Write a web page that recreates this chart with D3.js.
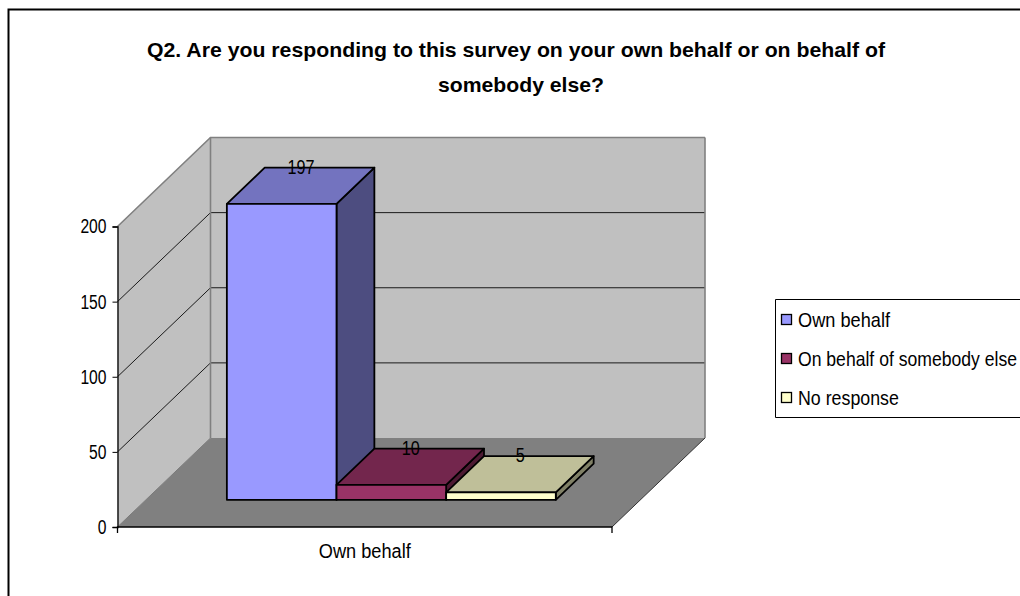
<!DOCTYPE html>
<meta charset="utf-8">
<style>
body{ margin: 0; background: #fff; overflow: hidden; }
svg{ display: block; }
text{ font-family: "Liberation Sans", Arial, sans-serif; fill: #000; }
</style>
<svg id="chart" width="1020" height="596"></svg>
<script src="https://cdn.jsdelivr.net/npm/d3@7"></script>
<script>

var titleLines = ['Q2. Are you responding to this survey on your own behalf or on behalf of', 'somebody else?']
var categories = ['Own behalf']
var seriesNames = ['Own behalf', 'On behalf of somebody else', 'No response']
var seriesValues = [197, 10, 5]
var yTicks = [0, 50, 100, 150, 200]
var frontColors = ['#9999ff', '#993366', '#ffffcc']
var topColors = ['#7373bf', '#73264d', '#bfbf99']
var sideColors = ['#4d4d80', '#4d1a33', '#808066']

var svg = d3.select('#chart')

// front edge of the box and how far the depth pushes things back
var x0Box = 117.5, x1Box = 612, yFloor = 527
var depth = {x: 93, y: -89}

var y = d3.scaleLinear().domain([0, 200]).range([yFloor, 226.5])
var x = d3.scaleBand().domain(categories).range([x0Box, x1Box])

// depth goes 0 (front of box) to 1 (back wall)
function pt(px, py, d){ return [px + depth.x * d, py + depth.y * d] }
function poly(pts){ return 'M' + pts.join('L') + 'Z' }

// chart frame, cut by the picture on the right and bottom
svg.append('path')
    .attr('d', 'M1022,9.5H8.5V598')
    .attr('fill', 'none').attr('stroke', '#000').attr('stroke-width', 2)

titleLines.forEach(function(t, i){
  svg.append('text')
      .attr('x', i ? 521 : 516).attr('y', i ? 92 : 57)
      .attr('text-anchor', 'middle')
      .attr('font-size', 21).attr('font-weight', 'bold')
      .attr('textLength', i ? 166 : 738).attr('lengthAdjust', 'spacingAndGlyphs')
      .text(t)
})

// walls and floor
var yTop = y(200)
svg.append('path')
    .attr('d', poly([pt(x0Box, yFloor, 0), pt(x0Box, yTop, 0), pt(x0Box, yTop, 1), pt(x0Box, yFloor, 1)]))
    .attr('fill', '#c0c0c0')
svg.append('path')
    .attr('d', poly([pt(x0Box, yFloor, 1), pt(x0Box, yTop, 1), pt(x1Box, yTop, 1), pt(x1Box, yFloor, 1)]))
    .attr('fill', '#c0c0c0')
svg.append('path')
    .attr('d', poly([pt(x0Box, yFloor, 0), pt(x0Box, yFloor, 1), pt(x1Box, yFloor, 1), pt(x1Box, yFloor, 0)]))
    .attr('fill', '#808080')

// grid on the two walls
yTicks.slice(1).forEach(function(d){
  var isTop = d == 200
  svg.append('path')
      .attr('d', 'M' + [pt(x0Box, y(d), 0), pt(x0Box, y(d), 1), pt(x1Box, y(d), 1)].join('L'))
      .attr('fill', 'none')
      .attr('stroke', isTop ? '#808080' : '#1a1a1a')
      .attr('stroke-width', isTop ? 1.6 : 1)
})

// wall edges
svg.append('path')
    .attr('d', 'M' + [pt(x0Box, yFloor, 1), pt(x0Box, yTop, 1)].join('L'))
    .attr('stroke', '#808080').attr('stroke-width', 1.6)
svg.append('path')
    .attr('d', 'M' + [pt(x1Box, yTop, 1), pt(x1Box, yFloor, 1)].join('L'))
    .attr('stroke', '#808080').attr('stroke-width', 1.6)
svg.append('path')
    .attr('d', 'M' + [pt(x0Box, yFloor, 0), pt(x0Box, yFloor, 1)].join('L'))
    .attr('stroke', '#7a7a7a').attr('stroke-width', 1)
svg.append('path')
    .attr('d', 'M' + [pt(x1Box, yFloor, 1), pt(x1Box, yFloor, 0)].join('L'))
    .attr('stroke', '#333').attr('stroke-width', 1)

// bars, left to right so each covers the side of the one before
var barDepth = {from: 0.305, to: 0.712}
var inner = x.bandwidth()
var bx = d3.scaleBand().domain(seriesNames)
    .range([x(categories[0]) + inner * 0.1638, x(categories[0]) + inner * 0.829])

var bars = svg.selectAll('g.bar').data(seriesNames).enter().append('g').attr('class', 'bar')
bars.each(function(name, i){
  var g = d3.select(this)
  var x0 = bx(name), x1 = x0 + bx.bandwidth()
  var y1 = y(seriesValues[i]), y0 = yFloor
  var a = barDepth.from, b = barDepth.to
  function face(pts, fill){
    g.append('path').attr('d', poly(pts)).attr('fill', fill)
        .attr('stroke', '#000').attr('stroke-width', 1.8).attr('stroke-linejoin', 'round')
  }
  face([pt(x1, y0, a), pt(x1, y1, a), pt(x1, y1, b), pt(x1, y0, b)], sideColors[i])
  face([pt(x0, y1, a), pt(x0, y1, b), pt(x1, y1, b), pt(x1, y1, a)], topColors[i])
  face([pt(x0, y0, a), pt(x0, y1, a), pt(x1, y1, a), pt(x1, y0, a)], frontColors[i])
})

// value labels sit at the back of each bar's top
seriesNames.forEach(function(name, i){
  var p = pt(bx(name) + bx.bandwidth() / 2, y(seriesValues[i]), barDepth.to)
  svg.append('text')
      .attr('x', p[0] - 18.5).attr('y', p[1] + 6)
      .attr('text-anchor', 'middle').attr('font-size', 20)
      .attr('textLength', String(seriesValues[i]).length * 9)
      .attr('lengthAdjust', 'spacingAndGlyphs')
      .text(seriesValues[i])
})

// axes
var yAxis = svg.append('g')
    .attr('transform', 'translate(' + x0Box + ',0)')
    .call(d3.axisLeft(y).tickValues(yTicks).tickSize(5).tickPadding(6))
yAxis.selectAll('text')
    .attr('font-size', 20).attr('textLength', function(d){ return String(d).length * 8.7 })
    .attr('lengthAdjust', 'spacingAndGlyphs')
yAxis.selectAll('line').attr('stroke', '#000')
yAxis.select('.domain').attr('stroke', '#000').attr('stroke-width', 1.3)

var xAxis = svg.append('g')
    .attr('transform', 'translate(0,' + yFloor + ')')
    .call(d3.axisBottom(x).tickSize(0).tickPadding(17))
xAxis.selectAll('text')
    .attr('font-size', 20).attr('dy', '0.71em')
    .attr('textLength', 92).attr('lengthAdjust', 'spacingAndGlyphs')
xAxis.select('.domain').attr('stroke', '#000').attr('stroke-width', 1.3)
    .attr('d', 'M' + x0Box + ',6V0H' + x1Box + 'V6')

// legend
svg.append('path')
    .attr('d', 'M1022,299.5H775.5V417.5H1022')
    .attr('fill', '#fff').attr('stroke', '#000').attr('stroke-width', 1)
var legendY = d3.scalePoint().domain(seriesNames).range([320, 398])
var legendWidths = [92, 219, 101]
seriesNames.forEach(function(name, i){
  svg.append('rect')
      .attr('x', 781.5).attr('y', legendY(name) - 5.5)
      .attr('width', 10).attr('height', 10)
      .attr('fill', frontColors[i]).attr('stroke', '#000').attr('stroke-width', 1.3)
  // squeeze with a transform so the long label really stays inside the page
  var label = svg.append('text')
      .attr('font-size', 20)
      .text(name)
  var sx = legendWidths[i] / label.node().getComputedTextLength()
  label.attr('transform', 'translate(798,' + (legendY(name) + 6.5) + ') scale(' + sx + ',1)')
})

</script>
